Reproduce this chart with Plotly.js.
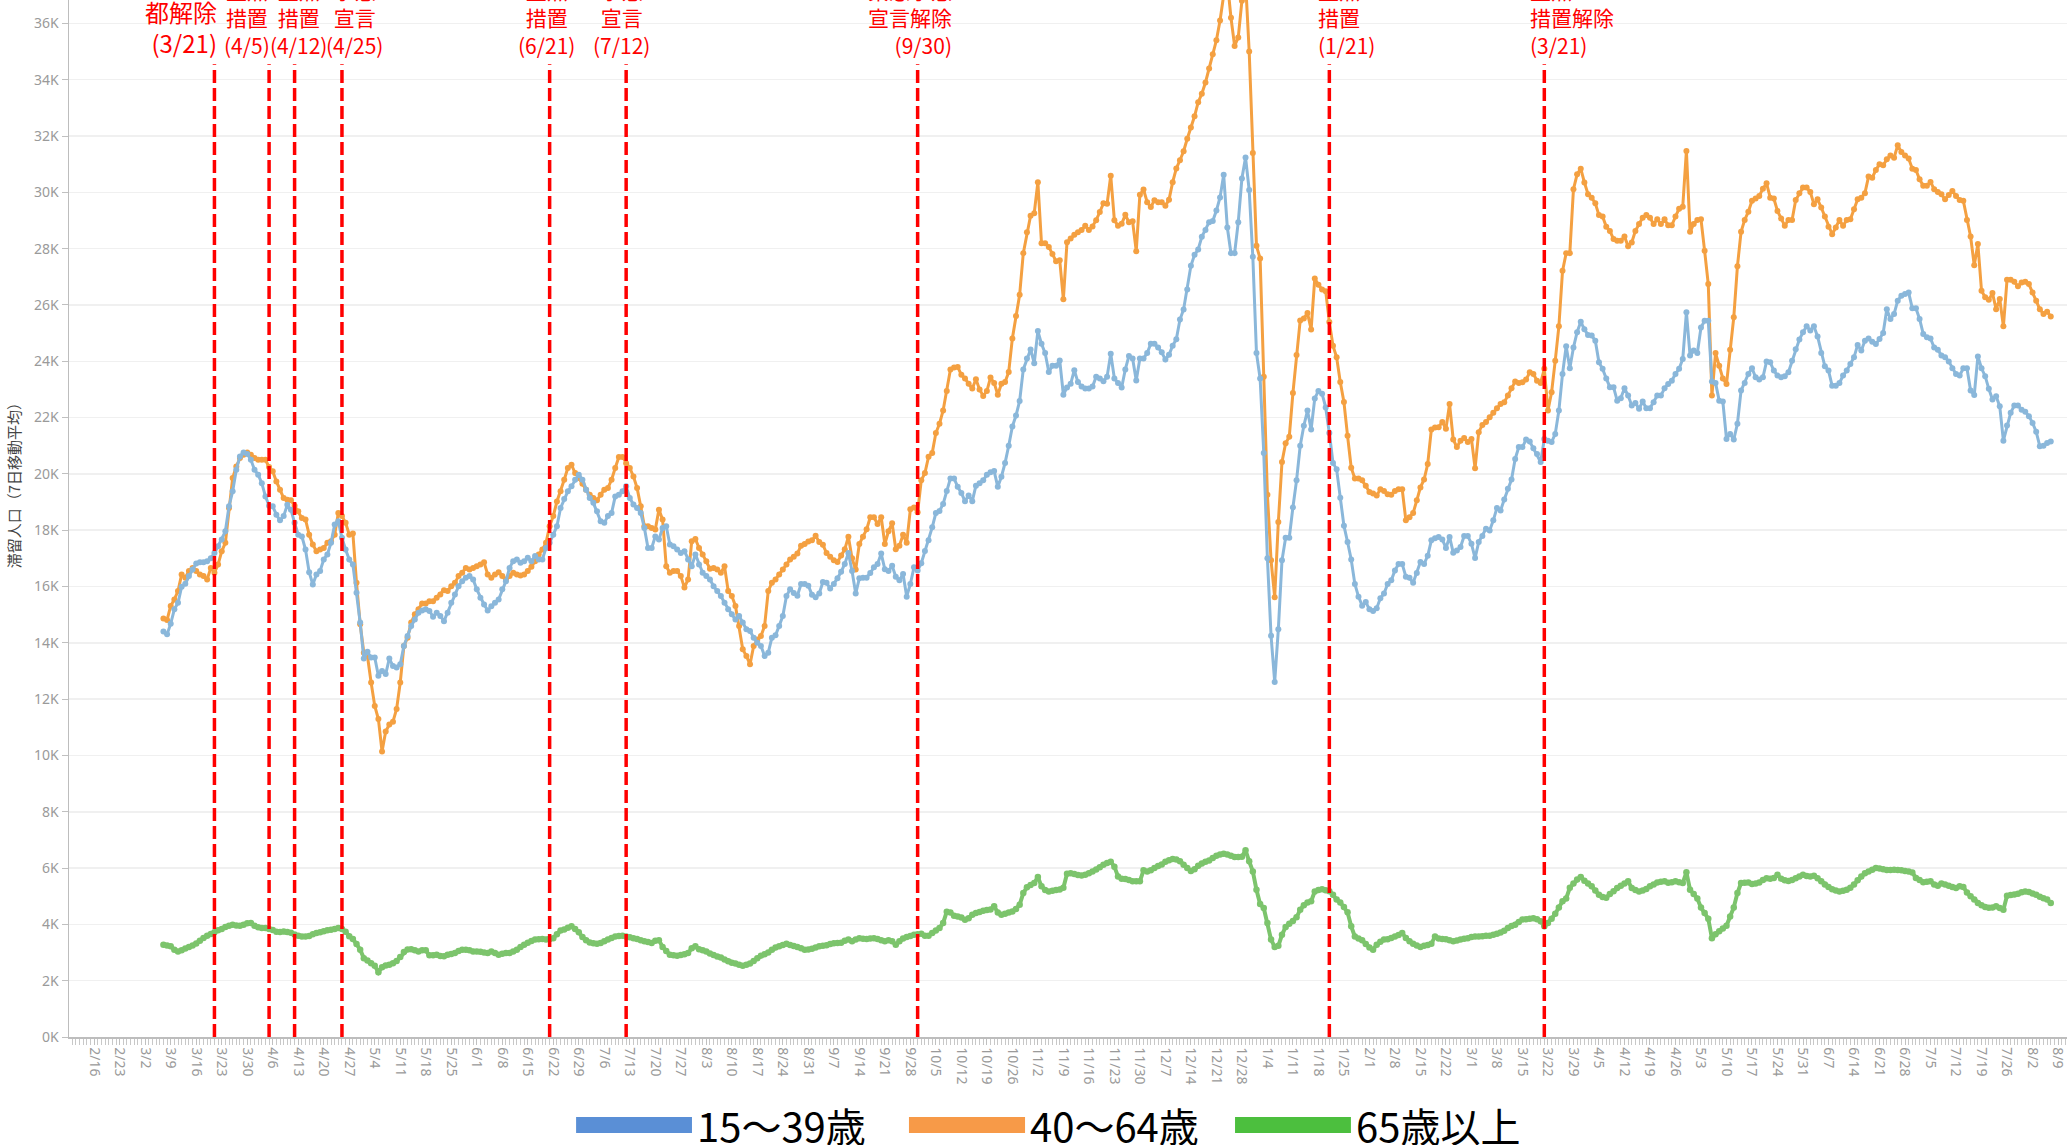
<!DOCTYPE html>
<html>
<head>
<meta charset="utf-8">
<script src="https://cdn.plot.ly/plotly-3.0.1.min.js"></script>
<style>
html,body{margin:0;padding:0;background:#fff;}
#chart{width:2067px;height:1145px;}
</style>
</head>
<body>
<div id="chart"></div>
<script>
// ---- DATA (values in thousands of people, daily from 2021-03-07) ----
const startDate = '2021-03-07';

const age15_39 = [
14.40,14.30,14.68,15.19,15.42,15.99,16.10,16.37,16.60,16.82,
16.86,16.86,16.90,17.00,17.19,17.43,17.67,17.96,18.85,19.38,
20.15,20.62,20.76,20.71,20.50,20.15,19.97,19.67,19.20,18.87,
18.85,18.55,18.35,18.50,18.90,18.73,18.26,17.84,17.78,17.31,
16.51,16.07,16.43,16.55,16.96,17.14,17.55,18.20,18.32,17.73,
17.31,16.96,16.78,15.78,14.72,13.44,13.68,13.48,13.48,12.83,
13.00,12.89,13.44,13.18,13.12,13.24,13.89,14.24,14.60,14.83,
15.07,15.15,15.19,15.13,14.93,15.07,14.95,14.77,15.07,15.42,
15.72,16.01,16.19,16.31,16.37,16.25,15.90,15.60,15.36,15.15,
15.30,15.42,15.54,15.90,16.19,16.66,16.90,16.96,16.84,16.90,
17.02,16.90,17.08,16.96,16.96,17.37,17.55,17.84,18.14,18.79,
19.11,19.38,19.56,19.79,19.97,19.79,19.44,19.14,18.97,18.67,
18.32,18.26,18.50,18.61,19.20,19.26,19.38,19.56,19.14,18.91,
18.79,18.61,18.08,17.37,17.37,17.78,17.67,18.08,18.14,17.49,
17.43,17.31,17.19,17.25,16.96,16.72,17.14,16.78,16.49,16.37,
16.25,16.01,15.84,15.66,15.42,15.19,15.01,14.83,14.95,14.72,
14.48,14.42,14.18,14.00,13.89,13.53,13.65,14.18,14.27,14.60,
14.95,15.66,15.90,15.77,15.67,16.09,16.09,16.03,15.71,15.62,
15.75,16.16,16.13,15.93,16.09,16.29,16.52,16.80,17.19,16.55,
15.75,16.29,16.31,16.31,16.48,16.68,16.80,17.17,16.61,16.55,
16.74,16.35,16.22,16.44,15.64,16.09,16.68,16.57,16.83,17.26,
17.64,18.10,18.61,18.68,18.93,19.39,19.84,19.84,19.54,19.32,
19.03,19.23,19.03,19.58,19.67,19.77,19.97,20.06,20.10,19.54,
19.90,20.39,21.00,21.68,22.07,22.59,23.71,24.10,24.42,23.93,
25.07,24.62,24.29,23.62,23.84,23.84,24.03,22.81,23.07,23.20,
23.68,23.26,23.10,23.03,23.03,23.10,23.45,23.39,23.29,23.45,
24.27,23.39,23.23,23.07,23.71,24.19,24.10,23.32,24.10,24.10,
24.29,24.62,24.62,24.49,24.32,24.06,24.23,24.55,24.78,25.48,
25.84,26.55,27.39,27.78,27.97,28.42,28.66,28.94,28.98,29.35,
29.82,30.62,28.75,27.84,27.84,28.94,30.49,31.24,30.08,27.71,
24.29,23.39,20.74,17.00,14.25,12.61,14.48,16.93,17.73,17.73,
18.81,19.77,21.00,21.71,22.25,21.58,22.68,22.94,22.85,22.36,
21.45,20.39,20.16,19.15,18.16,17.58,16.96,16.09,15.64,15.32,
15.45,15.19,15.13,15.23,15.58,15.75,16.09,16.22,16.57,16.80,
16.80,16.35,16.31,16.13,16.48,16.87,16.80,17.09,17.64,17.71,
17.76,17.67,17.37,17.76,17.20,17.28,17.40,17.79,17.79,17.52,
17.01,17.58,17.79,18.05,17.99,18.35,18.79,18.70,19.09,19.47,
19.80,20.53,20.95,20.95,21.22,21.15,20.91,20.71,20.42,21.24,
21.18,21.13,21.42,22.25,23.55,24.53,23.75,24.49,25.03,25.40,
25.14,24.93,24.91,24.73,23.96,23.73,23.39,23.08,23.08,22.60,
22.69,23.04,22.78,22.43,22.52,22.31,22.57,22.33,22.33,22.54,
22.78,22.78,23.04,23.19,23.31,23.55,23.73,24.08,25.74,24.20,
24.38,24.29,25.20,25.44,25.44,23.28,23.23,22.60,22.57,21.24,
21.42,21.22,21.78,22.96,23.23,23.55,23.75,23.43,23.35,23.43,
23.99,23.96,23.67,23.49,23.43,23.47,23.61,24.02,24.43,24.77,
25.03,25.24,25.09,25.24,24.88,24.29,23.82,23.67,23.13,23.13,
23.23,23.49,23.67,23.90,24.14,24.58,24.38,24.73,24.81,24.69,
24.61,24.79,25.00,25.85,25.50,25.68,26.15,26.33,26.39,26.44,
25.88,25.88,25.50,24.97,24.85,24.81,24.49,24.41,24.20,24.14,
23.99,23.75,23.55,23.49,23.75,23.75,22.96,22.80,24.17,23.75,
23.47,23.02,22.64,22.76,22.40,21.18,21.72,22.17,22.43,22.43,
22.28,22.21,22.05,21.81,21.50,20.98,21.00,21.10,21.15
];

const age40_64 = [
14.86,14.81,15.31,15.54,15.84,16.43,16.31,16.55,16.66,16.55,
16.43,16.37,16.25,16.66,16.49,16.78,17.25,17.55,18.79,19.85,
20.26,20.56,20.68,20.76,20.68,20.56,20.50,20.50,20.50,20.24,
20.09,19.73,19.44,19.14,19.08,19.06,18.87,18.67,18.43,18.38,
17.84,17.49,17.25,17.31,17.37,17.55,17.61,17.84,18.61,18.50,
18.26,17.84,17.88,16.13,14.66,13.65,13.53,12.59,11.76,11.29,
10.14,10.85,11.10,11.20,11.65,12.59,13.89,14.18,14.72,15.01,
15.19,15.40,15.40,15.48,15.48,15.60,15.72,15.87,15.84,16.01,
16.13,16.37,16.49,16.66,16.60,16.66,16.72,16.78,16.86,16.43,
16.31,16.43,16.51,16.37,16.25,16.37,16.49,16.43,16.39,16.43,
16.55,16.70,16.90,17.14,17.31,17.55,18.14,18.50,19.02,19.38,
19.79,20.21,20.32,20.03,19.85,19.65,19.44,19.26,19.14,19.06,
19.26,19.44,19.50,19.79,20.21,20.60,20.60,20.38,20.21,19.91,
19.50,18.85,18.14,18.14,18.08,18.02,18.73,18.38,16.72,16.49,
16.55,16.55,16.37,15.96,16.25,17.61,17.69,17.37,17.14,16.90,
16.63,16.66,16.60,16.49,16.72,15.84,15.66,15.31,14.60,13.77,
13.53,13.24,13.89,14.12,14.24,14.60,15.84,16.13,16.25,16.43,
16.60,16.78,16.96,17.06,17.17,17.45,17.51,17.60,17.64,17.80,
17.58,17.48,17.19,17.06,16.93,16.87,17.10,17.32,17.77,17.00,
16.60,17.51,17.77,18.03,18.46,18.46,18.22,18.46,17.51,17.96,
18.25,17.32,17.45,17.84,17.55,18.74,18.81,18.64,19.77,20.03,
20.61,20.74,21.45,21.78,22.25,22.94,23.71,23.78,23.80,23.52,
23.39,23.20,23.03,23.36,23.00,22.77,22.94,23.42,23.23,22.81,
23.20,23.26,23.62,24.81,25.61,26.36,27.84,28.58,29.17,29.26,
30.36,28.19,28.19,28.06,27.81,27.55,27.59,26.20,28.23,28.36,
28.49,28.58,28.66,28.81,28.66,28.79,29.01,29.30,29.61,29.59,
30.59,29.01,28.81,28.88,29.20,28.94,28.97,27.91,29.91,30.10,
29.65,29.48,29.72,29.65,29.65,29.52,29.74,30.36,30.85,31.14,
31.46,31.90,32.30,32.70,33.20,33.50,33.90,34.40,34.90,35.40,
36.10,37.00,37.50,36.20,35.20,35.50,36.80,37.50,35.00,31.40,
28.10,27.65,23.45,19.26,16.93,15.62,18.29,20.42,21.09,21.32,
22.87,24.22,25.45,25.52,25.71,25.13,26.94,26.72,26.55,26.49,
25.39,24.55,24.14,23.26,22.55,21.35,20.22,19.84,19.84,19.77,
19.58,19.36,19.30,19.23,19.45,19.39,19.28,19.26,19.39,19.45,
19.45,18.35,18.46,18.61,19.06,19.52,19.80,20.35,21.58,21.65,
21.66,21.84,21.60,22.48,21.22,20.95,21.18,21.27,21.13,21.24,
20.20,21.48,21.74,21.84,22.01,22.17,22.33,22.48,22.54,22.78,
23.04,23.28,23.23,23.25,23.35,23.61,23.55,23.31,23.23,23.73,
22.25,22.90,24.02,25.24,27.21,27.84,27.84,30.11,30.64,30.84,
30.35,29.93,29.81,29.61,29.19,29.14,28.78,28.63,28.34,28.28,
28.28,28.43,28.08,28.22,28.63,28.87,29.10,29.19,29.10,28.87,
29.04,28.87,29.04,28.83,28.83,29.14,29.42,29.49,31.47,28.60,
28.87,29.02,29.04,27.92,26.74,22.78,24.29,23.84,23.39,23.19,
24.41,25.56,27.37,28.60,29.02,29.31,29.70,29.78,29.87,30.13,
30.32,29.81,29.78,29.34,29.07,28.81,29.02,29.02,29.73,29.97,
30.17,30.17,30.01,29.58,29.75,29.46,29.14,28.78,28.51,28.75,
29.02,28.81,29.02,29.04,29.40,29.75,29.81,29.97,30.56,30.52,
30.79,31.00,30.96,31.17,31.31,31.23,31.67,31.43,31.31,31.20,
30.84,30.79,30.46,30.23,30.23,30.37,30.11,30.01,29.93,29.75,
29.90,30.05,29.87,29.73,29.70,29.02,28.43,27.41,28.16,26.50,
26.27,26.18,26.42,25.85,26.21,25.24,26.89,26.89,26.82,26.66,
26.80,26.82,26.74,26.44,26.15,25.85,25.68,25.76,25.59
];

const age65plus = [
3.28,3.25,3.22,3.10,3.04,3.08,3.14,3.20,3.25,3.32,
3.42,3.52,3.60,3.66,3.72,3.79,3.84,3.91,3.95,3.99,
3.96,3.95,3.99,4.04,4.05,3.95,3.90,3.87,3.87,3.84,
3.80,3.74,3.73,3.75,3.73,3.70,3.64,3.60,3.57,3.57,
3.59,3.65,3.69,3.72,3.76,3.79,3.81,3.84,3.87,3.84,
3.74,3.58,3.48,3.30,3.10,2.80,2.72,2.62,2.53,2.30,
2.48,2.54,2.57,2.62,2.70,2.84,3.02,3.11,3.12,3.08,
3.04,3.08,3.08,2.90,2.90,2.92,2.88,2.87,2.92,2.95,
2.98,3.05,3.10,3.10,3.08,3.04,3.04,3.03,3.00,2.98,
3.04,2.98,2.92,2.96,2.98,2.98,3.04,3.10,3.20,3.28,
3.35,3.41,3.46,3.47,3.48,3.46,3.48,3.51,3.65,3.78,
3.82,3.88,3.93,3.84,3.72,3.55,3.44,3.36,3.33,3.31,
3.34,3.40,3.46,3.52,3.57,3.59,3.60,3.57,3.54,3.51,
3.48,3.44,3.40,3.37,3.34,3.42,3.44,3.20,3.05,2.92,
2.90,2.89,2.91,2.94,2.98,3.15,3.22,3.12,3.08,3.04,
2.97,2.91,2.86,2.82,2.75,2.69,2.64,2.61,2.57,2.53,
2.57,2.61,2.70,2.80,2.89,2.94,3.00,3.10,3.18,3.22,
3.27,3.31,3.27,3.23,3.20,3.15,3.10,3.11,3.13,3.18,
3.22,3.24,3.26,3.30,3.33,3.34,3.35,3.42,3.46,3.40,
3.46,3.51,3.49,3.48,3.50,3.51,3.48,3.44,3.40,3.44,
3.40,3.28,3.40,3.50,3.55,3.59,3.63,3.65,3.67,3.60,
3.60,3.69,3.78,3.87,4.05,4.45,4.42,4.31,4.28,4.24,
4.16,4.22,4.34,4.40,4.44,4.48,4.51,4.53,4.64,4.42,
4.34,4.38,4.42,4.46,4.55,4.70,5.11,5.32,5.40,5.47,
5.68,5.35,5.22,5.17,5.19,5.22,5.24,5.30,5.80,5.82,
5.79,5.75,5.74,5.76,5.82,5.88,5.95,6.03,6.12,6.18,
6.22,6.05,5.70,5.62,5.61,5.58,5.53,5.53,5.53,5.92,
5.88,5.92,6.00,6.07,6.13,6.22,6.28,6.32,6.30,6.24,
6.12,6.00,5.90,5.96,6.08,6.16,6.22,6.27,6.36,6.44,
6.48,6.51,6.48,6.44,6.39,6.39,6.40,6.63,6.24,5.88,
5.23,4.72,4.58,4.05,3.46,3.20,3.24,3.63,3.91,4.02,
4.12,4.25,4.52,4.68,4.78,4.82,5.17,5.22,5.25,5.21,
5.18,5.05,4.88,4.78,4.62,4.43,3.93,3.57,3.50,3.44,
3.30,3.18,3.10,3.28,3.38,3.46,3.47,3.52,3.57,3.62,
3.69,3.52,3.40,3.31,3.25,3.20,3.24,3.27,3.31,3.57,
3.50,3.48,3.47,3.44,3.40,3.43,3.46,3.49,3.51,3.55,
3.57,3.57,3.58,3.60,3.60,3.63,3.67,3.71,3.77,3.87,
3.94,3.99,4.08,4.17,4.18,4.20,4.22,4.18,4.11,3.93,
4.05,4.20,4.38,4.60,4.82,4.92,5.30,5.45,5.59,5.68,
5.55,5.45,5.35,5.20,5.05,4.97,4.95,5.08,5.18,5.29,
5.37,5.45,5.53,5.29,5.22,5.17,5.20,5.26,5.35,5.42,
5.49,5.51,5.53,5.48,5.50,5.53,5.50,5.47,5.85,5.23,
5.08,4.92,4.60,4.40,4.20,3.51,3.65,3.76,3.85,3.95,
4.28,4.60,5.11,5.47,5.48,5.49,5.43,5.45,5.49,5.58,
5.64,5.62,5.65,5.76,5.62,5.57,5.54,5.58,5.64,5.70,
5.76,5.72,5.70,5.73,5.64,5.53,5.42,5.33,5.25,5.20,
5.17,5.19,5.23,5.30,5.42,5.57,5.70,5.82,5.88,5.94,
6.00,5.98,5.96,5.93,5.93,5.94,5.93,5.92,5.90,5.88,
5.84,5.65,5.58,5.50,5.51,5.53,5.42,5.37,5.45,5.42,
5.37,5.33,5.29,5.35,5.33,5.13,5.00,4.88,4.76,4.68,
4.62,4.59,4.60,4.64,4.58,4.52,5.02,5.04,5.06,5.09,
5.14,5.17,5.15,5.10,5.05,4.98,4.93,4.88,4.76
];

const seriesNames = ['15～39歳', '40～64歳', '65歳以上'];

const eventDates = ['2021-03-21','2021-04-05','2021-04-12','2021-04-25','2021-06-21','2021-07-12','2021-09-30','2022-01-21','2022-03-21'];
const eventLabels = [
  '都解除<br>(3/21)',
  '重点<br>措置<br>(4/5)',
  '重点<br>措置<br>(4/12)',
  '事態<br>宣言<br>(4/25)',
  '重点<br>措置<br>(6/21)',
  '事態<br>宣言<br>(7/12)',
  '緊急事態<br>宣言解除<br>(9/30)',
  '重点<br>措置<br>(1/21)',
  '重点<br>措置解除<br>(3/21)'
];

const yTickValues = [0,2,4,6,8,10,12,14,16,18,20,22,24,26,28,30,32,34,36];
const yTickLabels = ['0K','2K','4K','6K','8K','10K','12K','14K','16K','18K','20K','22K','24K','26K','28K','30K','32K','34K','36K'];
const yAxisTitle = '滞留人口（7日移動平均）';

// ---- STYLE ----
const lineColors = ['#8AB7DA', '#F4A041', '#7CC46C'];
const legendColors = ['#5A8FD6', '#F79A48', '#4CBF3E'];
const cjk = '"Noto Sans CJK JP", "Noto Sans", sans-serif';

// per-annotation placement (style): anchor, pixel shift, font size
const evStyle = [
  {a:'right',  s:5,   f:24},
  {a:'center', s:-22, f:21},
  {a:'center', s:4,   f:21},
  {a:'center', s:13,  f:21},
  {a:'center', s:-3,  f:21},
  {a:'center', s:-5,  f:21},
  {a:'right',  s:36,  f:21},
  {a:'left',   s:-13, f:21},
  {a:'left',   s:-16, f:21}
];

function dateSeq(start, n) {
  const p = start.split('-').map(Number);
  const t0 = Date.UTC(p[0], p[1]-1, p[2]);
  const out = [];
  for (let i = 0; i < n; i++) out.push(new Date(t0 + i*86400000).toISOString().slice(0,10));
  return out;
}

const seriesVals = [age15_39, age40_64, age65plus];
const traces = [];
const order = [1, 0, 2];
order.forEach(k => {
  const v = seriesVals[k];
  traces.push({
    type: 'scatter',
    mode: 'lines+markers',
    name: seriesNames[k],
    x: dateSeq(startDate, v.length),
    y: v,
    line: {color: lineColors[k], width: k === 2 ? 4 : 3},
    marker: {color: lineColors[k], size: k === 2 ? 6.5 : 6},
    hoverinfo: 'x+y+name',
    showlegend: false
  });
});

const shapes = eventDates.map(d => ({
  type: 'line', xref: 'x', yref: 'paper',
  x0: d, x1: d, y0: 0, y1: 0.938,
  line: {color: '#FF0000', width: 3.5, dash: '13px,5px'},
  layer: 'above'
}));

const annotations = eventDates.map((d, i) => ({
  xref: 'x', yref: 'paper', x: d, y: 0.940,
  xanchor: evStyle[i].a, yanchor: 'bottom',
  xshift: evStyle[i].s,
  align: evStyle[i].a,
  text: eventLabels[i],
  showarrow: false,
  font: {family: cjk, size: evStyle[i].f, color: '#FF0000'}
}));

// y-axis title
annotations.push({
  xref: 'paper', yref: 'paper', x: 0, y: 0.535,
  xanchor: 'center', yanchor: 'middle', xshift: -56,
  text: yAxisTitle, textangle: -90, showarrow: false,
  font: {family: cjk, size: 15, color: '#444'}
});

// manual legend (bars + text) below the chart
const legBars = [[0.2538, 0.3118], [0.4204, 0.4785], [0.5836, 0.6416]];
const legText = [0.3135, 0.4800, 0.6430];
seriesNames.forEach((n, i) => {
  shapes.push({
    type: 'rect', xref: 'paper', yref: 'paper',
    x0: legBars[i][0], x1: legBars[i][1], y0: -0.0926, y1: -0.0771,
    fillcolor: legendColors[i], line: {width: 0}
  });
  annotations.push({
    xref: 'paper', yref: 'paper', x: legText[i], y: -0.0849,
    xanchor: 'left', yanchor: 'middle', text: n, showarrow: false,
    font: {family: cjk, size: 40, color: '#000'}
  });
});

const layout = {
  width: 2067, height: 1145,
  margin: {l: 69, r: 0, t: 0, b: 108, pad: 0},
  paper_bgcolor: '#fff', plot_bgcolor: '#fff',
  showlegend: false,
  xaxis: {
    type: 'date',
    range: ['2021-02-09 02:00', '2022-08-11 11:00'],
    tick0: '2021-02-16', dtick: 7*86400000,
    tickformat: '%-m/%-d', tickangle: 90,
    ticklabeloverflow: 'allow',
    tickfont: {family: '"Noto Sans", sans-serif', size: 14, color: '#9a9a9a'},
    ticks: 'outside', ticklen: 6, tickcolor: '#c0c0c0', tickwidth: 1,
    minor: {dtick: 86400000, ticks: 'outside', ticklen: 6, tickcolor: '#c8c8c8', tickwidth: 1, showgrid: false},
    showgrid: false, zeroline: false,
    showline: true, linecolor: '#bdbdbd', linewidth: 1.5,
    fixedrange: true
  },
  yaxis: {
    range: [0, 36.83],
    tickvals: yTickValues, ticktext: yTickLabels,
    tickfont: {family: '"Noto Sans", sans-serif', size: 14, color: '#9a9a9a'},
    ticks: 'outside', ticklen: 6, tickcolor: '#c0c0c0',
    showgrid: true, gridcolor: '#f0f0f0', gridwidth: 1.5,
    zeroline: false, showline: true, linecolor: '#bdbdbd', linewidth: 1.5,
    fixedrange: true
  },
  shapes: shapes,
  annotations: annotations
};

Plotly.newPlot('chart', traces, layout, {displayModeBar: false, staticPlot: true});
</script>
</body>
</html>
